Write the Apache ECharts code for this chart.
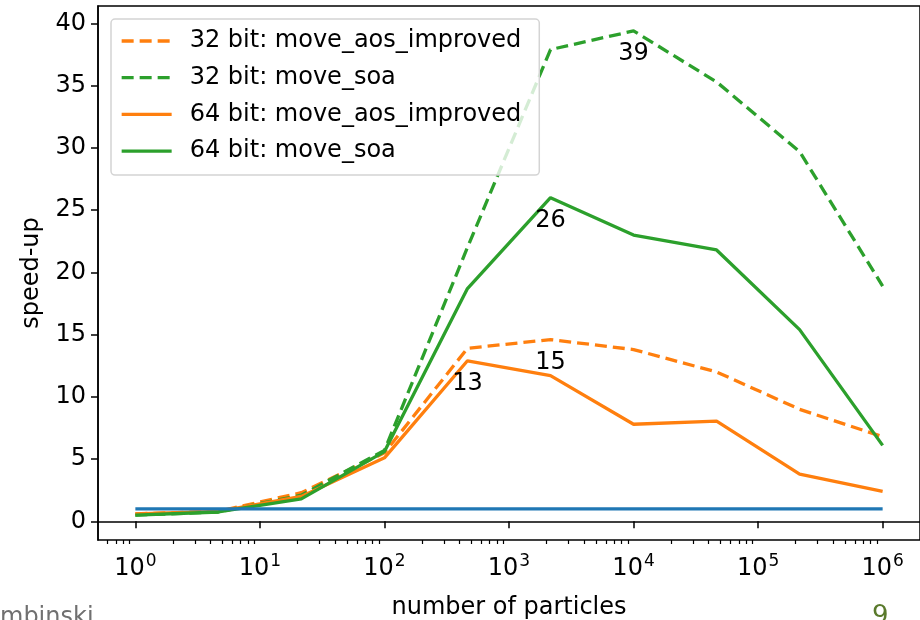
<!DOCTYPE html>
<html>
<head>
<meta charset="utf-8">
<title>speed-up</title>
<script src="https://cdn.jsdelivr.net/npm/echarts@6/dist/echarts.min.js"></script>
<style>
  html, body { margin: 0; padding: 0; background: #fff; }
  #chart { width: 920px; height: 620px; }
</style>
</head>
<body>
<div id="chart"></div>
<script>
// number of particles (logspace 1 .. 1e6, 10 points)
var particles = [1, 4.64, 21.5, 100, 464, 2154, 10000, 46416, 215443, 1000000];

var aos32 = [0.6, 0.8, 2.3, 5.5, 13.9, 14.6, 13.8, 12.0, 9.0, 6.8];
var soa32 = [0.5, 0.75, 2.1, 5.7, 22.0, 37.9, 39.4, 35.3, 29.7, 18.9];
var aos64 = [0.6, 0.8, 2.0, 5.1, 12.9, 11.7, 7.8, 8.05, 3.8, 2.4];
var soa64 = [0.5, 0.75, 1.8, 5.6, 18.7, 26.0, 23.0, 21.8, 15.4, 6.1];

// baseline speed-up of 1
var baselineX = [1, 1000000];
var baselineY = [1, 1];

// text annotations
var noteX = [10000, 2154, 2154, 464];
var noteY = [39.4, 26.0, 14.6, 12.9];
var noteText = ['39', '26', '15', '13'];

var xMajorTicks = [1, 10, 100, 1000, 10000, 100000, 1000000];
var yTicks = [0, 5, 10, 15, 20, 25, 30, 35, 40];

(function () {
  var FONT = 'DejaVu Sans';
  var ORANGE = '#ff7f0e';
  var GREEN = '#2ca02c';
  var BLUE = '#1f77b4';
  var DASH = [12, 6];
  var LW = 3.3;

  function pairs(xs, ys) {
    return xs.map(function (x, i) { return [x, ys[i]]; });
  }

  // minor ticks 2..9 x 10^k inside the visible range
  var xMin = Math.pow(10, -0.3);
  var xMax = Math.pow(10, 6.3);
  var xMinorTicks = [];
  for (var k = -1; k <= 6; k++) {
    for (var m = 2; m <= 9; m++) {
      var v = m * Math.pow(10, k);
      if (v > xMin && v < xMax) xMinorTicks.push(v);
    }
  }

  function lineSeries(name, ys, color, dashed) {
    return {
      name: name,
      type: 'line',
      data: pairs(particles, ys),
      symbol: 'none',
      showSymbol: false,
      lineStyle: { color: color, width: LW, type: dashed ? DASH : 'solid' },
      itemStyle: { color: color },
      silent: true
    };
  }

  var chart = echarts.init(document.getElementById('chart'), null, { renderer: 'canvas' });

  var option = {
    backgroundColor: '#fff',
    animation: false,
    textStyle: { fontFamily: FONT },
    grid: {
      left: 98, right: 0, top: 6, bottom: 80,
      containLabel: false,
      outerBoundsMode: 'none',
      show: true, borderColor: '#000', borderWidth: 1.5,
      backgroundColor: 'transparent'
    },
    legend: {
      orient: 'vertical',
      left: 111, top: 19,
      data: ['32 bit: move_aos_improved', '32 bit: move_soa', '64 bit: move_aos_improved', '64 bit: move_soa'],
      itemWidth: 50, itemHeight: 14, itemGap: 10.7,
      padding: [9, 18, 11, 9],
      backgroundColor: 'rgba(255,255,255,0.8)',
      borderColor: '#d4d4d4', borderWidth: 1.5, borderRadius: 4,
      selectedMode: false,
      itemStyle: { color: 'rgba(0,0,0,0)', borderWidth: 0, opacity: 0 },
      lineStyle: { width: LW },
      textStyle: { fontFamily: FONT, fontSize: 24, color: '#000', lineHeight: 26, padding: [0, 0, 0, 13] }
    },
    xAxis: [
      {
        type: 'log',
        min: xMin, max: xMax,
        name: 'number of particles',
        nameLocation: 'middle',
        nameGap: 56,
        nameTextStyle: { fontFamily: FONT, fontSize: 24, color: '#000' },
        axisLine: { show: true, lineStyle: { color: '#000', width: 1.5 } },
        axisTick: { show: true, inside: false, length: 7, lineStyle: { color: '#000', width: 1.5 }, customValues: xMajorTicks },
        axisLabel: {
          customValues: xMajorTicks,
          margin: 13,
          formatter: function (val) {
            return '{b|10}{s|' + Math.round(Math.log10(val)) + '}';
          },
          rich: {
            b: { fontFamily: FONT, fontSize: 24, color: '#000', lineHeight: 28, verticalAlign: 'bottom' },
            s: { fontFamily: FONT, fontSize: 17, color: '#000', lineHeight: 17, verticalAlign: 'top', padding: [0, 0, 18, 1] }
          }
        },
        splitLine: { show: false },
        minorTick: { show: false }
      },
      {
        type: 'log',
        min: xMin, max: xMax,
        position: 'bottom',
        axisLine: { show: false },
        axisLabel: { show: false },
        axisTick: { show: true, inside: false, length: 4, lineStyle: { color: '#000', width: 1.2 }, customValues: xMinorTicks },
        splitLine: { show: false }
      }
    ],
    yAxis: {
      type: 'value',
      min: -1.5, max: 41.4,
      name: 'speed-up',
      nameLocation: 'middle',
      nameGap: 54,
      nameRotate: 90,
      nameTextStyle: { fontFamily: FONT, fontSize: 24, color: '#000' },
      axisLine: { show: true, lineStyle: { color: '#000', width: 1.5 } },
      axisTick: { show: true, inside: false, length: 7, lineStyle: { color: '#000', width: 1.5 }, customValues: yTicks },
      axisLabel: { customValues: yTicks, margin: 12, fontFamily: FONT, fontSize: 24, color: '#000' },
      splitLine: { show: false }
    },
    graphic: [
      { type: 'text', left: 0, top: 606, silent: true,
        style: { text: 'mbinski', fontFamily: FONT, fontSize: 24, fill: '#707070' } },
      { type: 'text', left: 872, top: 604, silent: true,
        style: { text: '9', fontFamily: FONT, fontSize: 26, fill: '#5a7a2c' } }
    ],
    series: [
      lineSeries('32 bit: move_aos_improved', aos32, ORANGE, true),
      lineSeries('32 bit: move_soa', soa32, GREEN, true),
      lineSeries('64 bit: move_aos_improved', aos64, ORANGE, false),
      lineSeries('64 bit: move_soa', soa64, GREEN, false),
      {
        name: 'baseline',
        type: 'line',
        data: pairs(baselineX, baselineY),
        symbol: 'none',
        lineStyle: { color: BLUE, width: LW },
        itemStyle: { color: BLUE },
        silent: true
      },
      {
        name: 'notes',
        type: 'scatter',
        symbolSize: 0,
        z: 10,
        silent: true,
        itemStyle: { opacity: 1 },
        data: noteX.map(function (x, i) { return [x, noteY[i], noteText[i]]; }),
        label: {
          show: true,
          position: 'bottom',
          distance: 11,
          opacity: 1,
          fontFamily: FONT, fontSize: 24, color: '#000',
          formatter: function (p) { return p.value[2]; }
        }
      }
    ]
  };

  chart.setOption(option);
})();
</script>
</body>
</html>
